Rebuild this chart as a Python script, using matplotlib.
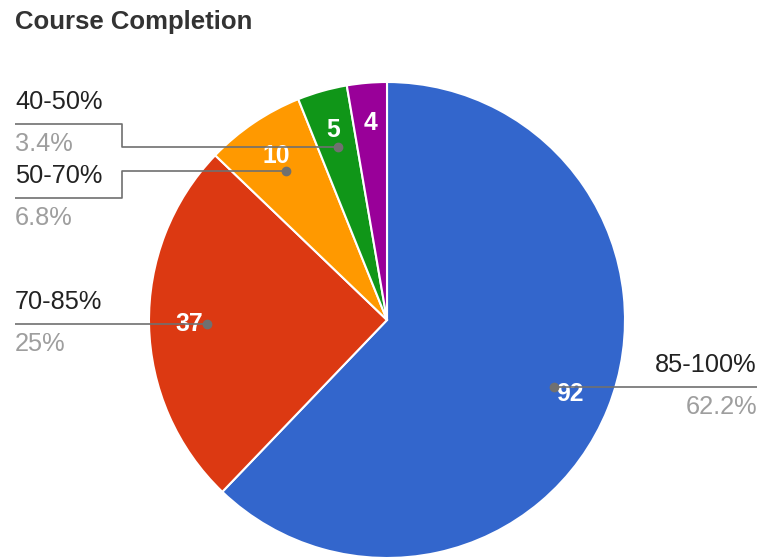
import numpy as np
import matplotlib
matplotlib.use("Agg")
import matplotlib.pyplot as plt

categories = ["85-100%", "70-85%", "50-70%", "40-50%", "0-40%"]
values = [92, 37, 10, 5, 4]
colors = ["#3366CC", "#DC3912", "#FF9900", "#109618", "#990099"]
show_label = [True, True, True, True, False]

W, H = 760, 558
CX, CY, R = 387, 320, 238  # pie centre and radius in pixels

fig = plt.figure(figsize=(W / 100, H / 100), dpi=100)
ax = fig.add_axes([(CX - R) / W, (H - CY - R) / H, 2 * R / W, 2 * R / H])
ax.axis("off")

wedges, _ = ax.pie(values, colors=colors, startangle=90, counterclock=False,
                   radius=1, wedgeprops=dict(edgecolor="white", linewidth=1.5))
for w in wedges:
    w.set_clip_on(False)
ax.set_xlim(-1, 1)
ax.set_ylim(-1, 1)
ax.set_aspect("equal")

FONT = "Liberation Sans"
FS = 18.3
total = sum(values)


def px2d(px, py):
    return (px - CX) / R, (CY - py) / R


def fmt_pct(v):
    p = round(v / total * 100, 1)
    s = f"{p:.1f}"
    if s.endswith(".0"):
        s = s[:-2]
    return s + "%"


# value labels inside slices
cum = 0
mids = []
for v in values:
    mid = 90 - (cum + v / 2) / total * 360
    mids.append(np.deg2rad(mid))
    cum += v

for v, a in zip(values, mids):
    ax.text(0.83 * np.cos(a), 0.83 * np.sin(a), str(v), color="white",
            fontsize=FS - 0.5, fontfamily=FONT, ha="center", va="center",
            fontweight="bold", zorder=5)

LINE_C = "#707070"
# leader layout: (label side, line y of label in px, elbow x in px or None)
layout = {
    "85-100%": ("right", None, None),
    "70-85%": ("left", None, None),
    "50-70%": ("left", 198, 122),
    "40-50%": ("left", 124, 122),
}
for cat, v, a, show in zip(categories, values, mids, show_label):
    if not show:
        continue
    side, ly, ex = layout[cat]
    dx, dy = 0.755 * np.cos(a), 0.755 * np.sin(a)
    ax.plot([dx], [dy], "o", color=LINE_C, ms=6, zorder=7, clip_on=False)
    end_px = 757 if side == "right" else 15
    if ly is None:
        ly_d = dy
        xs = [dx, px2d(end_px, 0)[0]]
        ys = [dy, dy]
    else:
        ly_d = px2d(0, ly)[1]
        exd = px2d(ex, 0)[0]
        xs = [dx, exd, exd, px2d(end_px, 0)[0]]
        ys = [dy, dy, ly_d, ly_d]
    ax.plot(xs, ys, color=LINE_C, lw=1.2, zorder=6, clip_on=False,
            solid_capstyle="butt")
    tx = px2d(end_px, 0)[0]
    ha = "right" if side == "right" else "left"
    ax.text(tx, ly_d + 22 / R, cat, color="#222222", fontsize=FS,
            fontfamily=FONT, ha=ha, va="center", clip_on=False)
    ax.text(tx, ly_d - 20 / R, fmt_pct(v), color="#9e9e9e", fontsize=FS,
            fontfamily=FONT, ha=ha, va="center", clip_on=False)

fig.text(15 / W, 1 - 22 / H, "Course Completion", fontsize=18.5,
         fontweight="bold", fontfamily=FONT, color="#333333",
         ha="left", va="center")

fig.savefig("out.png", dpi=100, facecolor="white")
